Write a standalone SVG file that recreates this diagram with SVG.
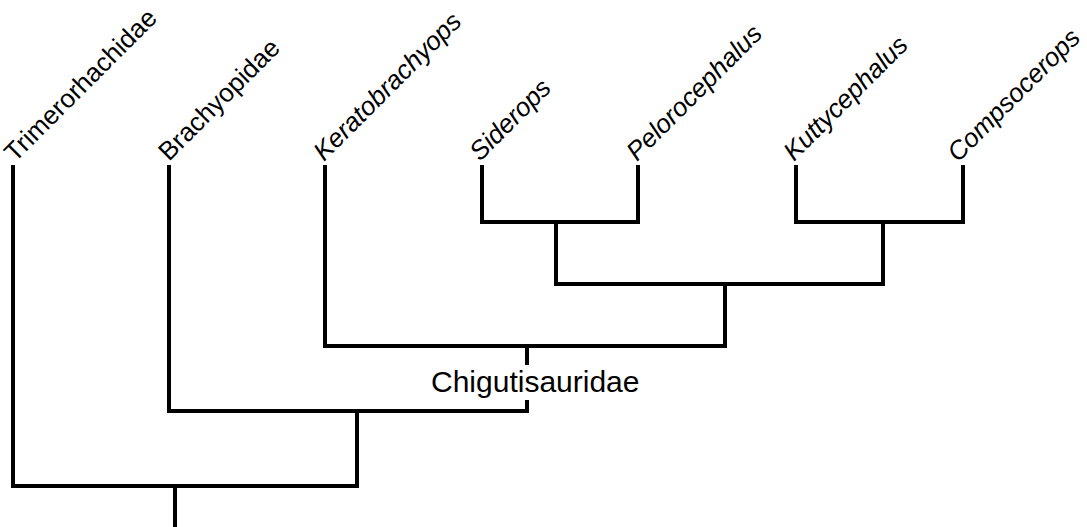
<svg xmlns="http://www.w3.org/2000/svg" width="1087" height="527" viewBox="0 0 1087 527">
<style>
.e{fill:none;stroke:#000;stroke-width:4;stroke-linecap:square;stroke-linejoin:miter}
.t{font-family:"Liberation Sans",Arial,sans-serif;font-size:26px;fill:#000}
.i{font-style:italic}
.c{font-family:"Liberation Sans",Arial,sans-serif;font-size:30px;fill:#000}
</style>
<rect width="1087" height="527" fill="#fff"/>
<g id="connectors">
<path class="e" d="M13,167V486H357V411M175,486V527"/>
<path class="e" d="M169,167V411H527V402"/>
<path class="e" d="M325,167V346H725V284M527,346V363"/>
<path class="e" d="M556,222V284H883V222"/>
<path class="e" d="M482,167V222H638V167"/>
<path class="e" d="M796,167V222H963V167"/>
</g>
<g id="n-trimerorhachidae"><text class="t" transform="translate(15,163) rotate(-45)">Trimerorhachidae</text></g>
<g id="n-brachyopidae"><text class="t" transform="translate(169,162) rotate(-45)">Brachyopidae</text></g>
<g id="n-keratobrachyops"><text class="t i" transform="translate(324,162) rotate(-45)">Keratobrachyops</text></g>
<g id="n-siderops"><text class="t i" transform="translate(480,162) rotate(-45)">Siderops</text></g>
<g id="n-pelorocephalus"><text class="t i" transform="translate(637,162) rotate(-45)">Pelorocephalus</text></g>
<g id="n-kuttycephalus"><text class="t i" transform="translate(794,162) rotate(-45)">Kuttycephalus</text></g>
<g id="n-compsocerops"><text class="t i" transform="translate(958,163) rotate(-45)">Compsocerops</text></g>
<g id="n-chigutisauridae"><text class="c" x="431" y="392">Chigutisauridae</text></g>
</svg>
